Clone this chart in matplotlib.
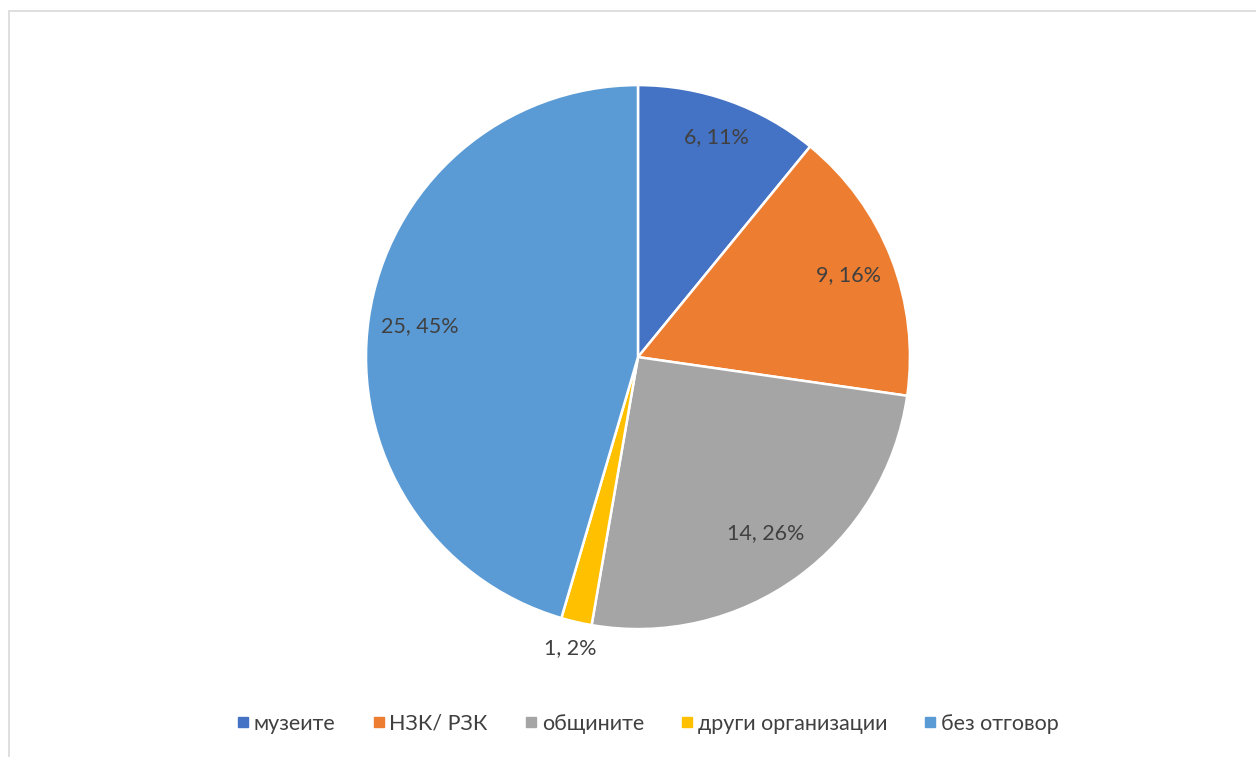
import numpy as np
import matplotlib.pyplot as plt
from matplotlib.patches import Rectangle
from matplotlib.lines import Line2D

plt.rcParams['font.family'] = ['Lato', 'Noto Sans', 'DejaVu Sans']

categories = ["музеите", "НЗК/ РЗК", "общините", "други организации", "без отговор"]
counts = [6, 9, 14, 1, 25]
# percentages as shown on the chart (rounded so they sum to 100)
percents = [11, 16, 26, 2, 45]
colors = ["#4472C4", "#ED7D31", "#A5A5A5", "#FFC000", "#5B9BD5"]

# radial position of each data label (fraction of radius)
label_r = [0.86, 0.83, 0.80, 1.10, 0.81]

fig = plt.figure(figsize=(12.56, 7.57), dpi=100)

# light outer frame of the chart area
fig.patches.append(Rectangle((0.0072, -0.05), 1.1, 1.0355, transform=fig.transFigure,
                             fill=False, edgecolor="#D9D9D9", linewidth=1.2))

ax = fig.add_axes([0.2914, 0.169, 0.4331, 0.7186])

wedges, _ = ax.pie(
    counts,
    colors=colors,
    startangle=90,
    counterclock=False,
    wedgeprops=dict(edgecolor="white", linewidth=1.8),
)

for w, c, p, r in zip(wedges, counts, percents, label_r):
    ang = np.deg2rad((w.theta1 + w.theta2) / 2)
    ax.text(r * np.cos(ang), r * np.sin(ang), f"{c}, {p}%",
            ha="center", va="center", color="#404040", fontsize=15.5)

ax.set_xlim(-1, 1)
ax.set_ylim(-1, 1)
ax.set_aspect("equal")

handles = [Line2D([], [], marker="s", linestyle="none", markersize=6.5,
                  markerfacecolor=c, markeredgecolor=c) for c in colors]
fig.legend(handles, categories, loc="center", bbox_to_anchor=(0.514, 0.044),
           ncol=5, frameon=False, fontsize=15.5, handletextpad=0.0,
           handlelength=1.0, columnspacing=1.5, labelcolor="#404040")

fig.savefig("out.png", dpi=100)
